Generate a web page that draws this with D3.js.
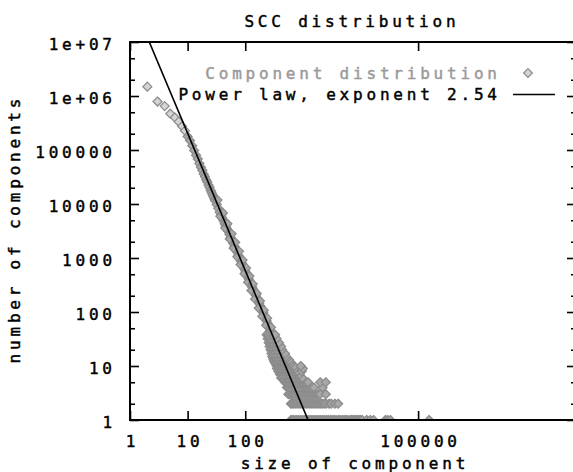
<!DOCTYPE html>
<html><head><meta charset="utf-8">
<script src="https://cdn.jsdelivr.net/npm/d3@7"></script>
<style>
html,body{margin:0;padding:0;background:#fff;overflow:hidden}
svg text{font-family:"DejaVu Sans Mono",monospace;font-size:16px;letter-spacing:3.8px;fill:#000;stroke:#000;stroke-width:0.45px}
</style></head><body>
<svg id="c" width="573" height="472"></svg>
<script>
// ---------------- data ----------------
const titleText = "SCC distribution";
const xLabelText = "size of component";
const yLabelText = "number of components";
const seriesName = "Component distribution";
const fitName = "Power law, exponent 2.54";

const xTickValues = [1, 10, 100, 100000];
const xTickLabels = ["1", "10", "100", "100000"];
const yTickValues = [1, 10, 100, 1000, 10000, 100000, 1e6, 1e7];
const yTickLabels = ["1", "10", "100", "1000", "10000", "100000", "1e+06", "1e+07"];
const yMinorTicks = [2,5,20,50,200,500,2000,5000,20000,50000,2e5,5e5,2e6,5e6];

// head of the distribution (size, number of components)
const headSizes  = [2,3,4,5,6,7,8,9,10,11,12,13,14,15,16,17,18,19,20,21,22,23,24,25,26,27,28,29,30,32,34,36,38,40,42,44,46,48,50,53,56,59,62,65,68,72,76,80,84,88,92,96,100,105,110,115,120,126,132,138,145,152,160,168,176,185,195,205,215,225,235,245,255,265,275,285,295,305];
const headCounts = [1490000,790000,650000,470000,400000,335000,275000,228000,178000,150000,120000,98000,80000,68000,56000,48000,42000,36000,32000,28000,25500,22500,20500,18000,16500,15000,13800,12500,11500,9800,8300,7000,6200,5500,4900,4300,3900,3500,3150,2750,2400,2100,1850,1650,1480,1300,1130,1000,880,800,720,640,580,520,460,410,370,330,290,262,232,205,180,160,142,126,110,98,86,77,68,61,55,50,45,41,37,34];

// scatter around the power law in the middle range
const scatterSizes  = [33,37,41,45,49,54,58,63,67,73,78,83,90,97,103,112,118,128,135,148,158,172,180,198,210,230,240,260,280,300];
const scatterCounts = [11800,5900,6800,3600,4300,2250,2800,1520,1950,1050,1330,755,920,510,655,355,465,250,330,175,220,118,160,83,108,57,77,42,52,29];

// tail: rows of equal count
const tailCounts = [1,2,3,4,5,6,7,8,9,10,11,12,13,14,15,17,20,23,27,32,38];
const tailSizes = [
  [620,650,700,760,825,895,970,1050,1140,1230,1330,1440,1560,1690,1840,1990,2150,2330,2530,2740,2970,3210,3470,3750,4090,4400,4800,5190,5600,6000,6600,7000,7440,7900,8390,8900,9460,10000,10700,12800,14700,16800,27000,29500,33000,155000],
  [620,650,700,760,825,895,970,1050,1140,1230,1330,1440,1560,1690,1840,1990,2150,2330,2530,2850,3100,3600,4100],
  [560,600,650,700,760,825,895,970,1050,1140,1230,1330,1440,1560,1700,1840,2000,2500],
  [530,560,600,650,700,760,825,895,970,1050,1140,1230,1330,1440,1560,2200],
  [490,520,560,600,650,700,760,825,895,970,1050,1140,1230,2000,2500],
  [420,450,490,530,570,620,670,720,780,845,910,980],
  [400,430,470,510,550,600,650,710,770,830,880],
  [375,400,430,470,510,550,600,650,710,770,810,960],
  [355,380,410,445,485,525,570,620,670,720,1000],
  [350,375,410,445,485,525,570,620,670,710,920],
  [335,360,395,430,470,510,560,620],
  [320,345,375,410,445,490,540,600],
  [310,335,365,400,440,480,530,575],
  [305,335,365,400,440,480,530],
  [295,320,350,385,420,460,510],
  [285,310,340,375,410,450,490],
  [275,300,330,360,400,435],
  [265,290,320,350,385,420],
  [255,275,300,330,360,385],
  [245,265,290,320,350],
  [235,255,280,305,330]
];

const fitExponent = 2.54;
const fitCoefficient = 7.08e7;
const fitRange = [1, 2000];

// ---------------- chart ----------------
const svg = d3.select("#c");
const L = 130, R = 576, T = 42, B = 420;
const x = d3.scaleLog().domain([1, 5.5e7]).range([L, R]);
const y = d3.scaleLog().domain([1, 1e7]).range([B, T]);
const LS = 3.8;

svg.append("defs").append("clipPath").attr("id","clip")
  .append("rect").attr("x",L).attr("y",T).attr("width",R-L).attr("height",B-T);

// points
const pts = [];
headSizes.forEach((s,i)=>pts.push([s, headCounts[i]]));
scatterSizes.forEach((s,i)=>pts.push([s, scatterCounts[i]]));
tailCounts.forEach((c,i)=>tailSizes[i].forEach(s=>pts.push([s,c])));

const dia = r => `M0,${-r}L${r},0L0,${r}L${-r},0Z`;
const ptColor = "#8a8a8a";
const ptFill = "#a8a8a8";
svg.append("g").attr("clip-path","url(#clip)")
  .selectAll("path").data(pts).join("path")
  .attr("d", dia(4.5))
  .attr("transform", d=>`translate(${x(d[0])},${y(d[1])})`)
  .attr("fill", d => d[1] > 200000 ? "#d4d4d4" : ptFill)
  .attr("stroke", ptColor).attr("stroke-width", 1.2);

// power law fit line
const fitPts = fitRange.map(v => [v, fitCoefficient * Math.pow(v, -fitExponent)]);
svg.append("path").attr("clip-path","url(#clip)")
  .attr("d", d3.line().x(d=>x(d[0])).y(d=>y(d[1]))(fitPts))
  .attr("fill","none").attr("stroke","#000").attr("stroke-width",1.6);

// axes
function style(g){
  g.select(".domain").remove();
  g.selectAll("line").attr("stroke","#000").attr("stroke-width",1.6);
  g.attr("font-family",null).attr("font-size",null);
}
svg.append("g").attr("transform",`translate(${L},0)`)
  .call(d3.axisLeft(y).tickValues(yTickValues).tickFormat((d,i)=>yTickLabels[i]).tickSize(-9).tickPadding(18))
  .call(style)
  .call(g=>g.selectAll("text").attr("dy","0.45em").attr("dx",LS));
svg.append("g").attr("transform",`translate(${L},0)`)
  .call(d3.axisLeft(y).tickValues(yMinorTicks).tickFormat("").tickSize(-5)).call(style);
svg.append("g").attr("transform",`translate(${R},0)`)
  .call(d3.axisRight(y).tickValues(yTickValues).tickFormat("").tickSize(-9)).call(style);
svg.append("g").attr("transform",`translate(${R},0)`)
  .call(d3.axisRight(y).tickValues(yMinorTicks).tickFormat("").tickSize(-5)).call(style);
svg.append("g").attr("transform",`translate(0,${B})`)
  .call(d3.axisBottom(x).tickValues(xTickValues).tickFormat((d,i)=>xTickLabels[i]).tickSize(-9).tickPadding(16))
  .call(style)
  .call(g=>g.selectAll("text").attr("dx",LS/2));
svg.append("g").attr("transform",`translate(0,${T})`)
  .call(d3.axisTop(x).tickValues(xTickValues).tickFormat("").tickSize(-9)).call(style);

// frame
svg.append("rect").attr("x",L).attr("y",T).attr("width",R-L).attr("height",B-T)
  .attr("fill","none").attr("stroke","#000").attr("stroke-width",2);

// titles
svg.append("text").attr("x",(L+R)/2 - 3 + LS/2).attr("y",27).attr("text-anchor","middle").text(titleText);
svg.append("text").attr("x",353 + LS/2).attr("y",469).attr("text-anchor","middle").text(xLabelText);
svg.append("text").attr("transform","translate(20,231) rotate(-90)").attr("dx",LS/2)
  .attr("text-anchor","middle").text(yLabelText);

// legend
const lg = svg.append("g");
lg.append("text").attr("x",497+LS).attr("y",79).attr("text-anchor","end")
  .style("fill","#9a9a9a").style("stroke","#9a9a9a").text(seriesName);
lg.append("path").attr("d",dia(4.3)).attr("transform","translate(528,73)")
  .attr("fill","#d4d4d4").attr("stroke",ptColor).attr("stroke-width",1.2);
lg.append("text").attr("x",497+LS).attr("y",100).attr("text-anchor","end").text(fitName);
lg.append("line").attr("x1",513).attr("x2",555).attr("y1",94.5).attr("y2",94.5)
  .attr("stroke","#000").attr("stroke-width",1.6);
</script>
</body></html>
